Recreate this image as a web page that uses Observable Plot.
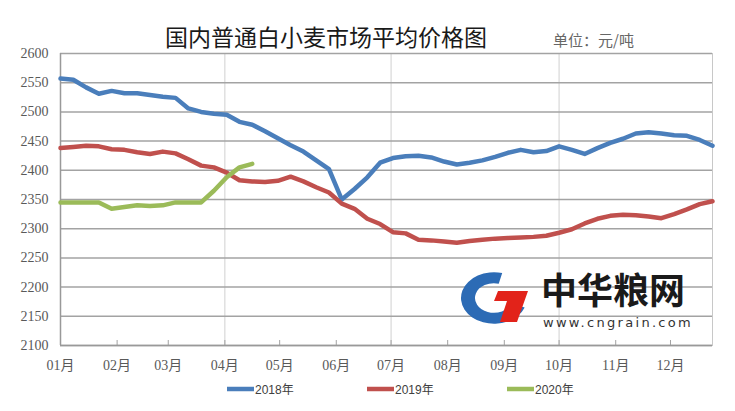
<!DOCTYPE html>
<html><head><meta charset="utf-8">
<script src="https://cdn.jsdelivr.net/npm/d3@7"></script>
<script src="https://cdn.jsdelivr.net/npm/@observablehq/plot@0.6"></script>
<style>body{margin:0;background:#fff;}</style>
</head><body><div id="chart"></div>
<script>
// ---- data ----
const title = "国内普通白小麦市场平均价格图";
const unitLabel = "单位：元/吨";
const seriesNames = ["2018年", "2019年", "2020年"];
const seriesColors = ["#4a7ebb", "#c0504d", "#9bbb59"];
const yTicks = [2100, 2150, 2200, 2250, 2300, 2350, 2400, 2450, 2500, 2550, 2600];
const xStart = new Date("2019-01-01");
const xEnd = new Date("2019-12-24");
const monthTicks = d3.utcMonth.range(new Date("2019-01-01"), new Date("2019-12-02"));
const gridMonths = [new Date("2019-04-01"), new Date("2019-07-01"), new Date("2019-10-01")];
const weekDates = d3.utcDay.range(new Date("2019-01-01"), new Date("2019-12-25"), 7);
const values2018 = [2557,2555,2542,2531,2536,2532,2532,2529,2526,2524,2506,2500,2497,2495,2483,2478,2467,2455,2443,2432,2417,2402,2350,2368,2388,2413,2421,2424,2425,2422,2415,2410,2413,2417,2423,2430,2435,2431,2433,2441,2435,2428,2438,2447,2454,2463,2465,2463,2460,2459,2452,2442];
const values2019 = [2438,2440,2442,2441,2436,2435,2431,2428,2432,2429,2419,2408,2405,2396,2383,2381,2380,2382,2389,2381,2371,2362,2343,2334,2317,2308,2294,2292,2281,2280,2278,2276,2279,2281,2283,2284,2285,2286,2288,2293,2299,2309,2317,2322,2324,2323,2321,2318,2325,2333,2342,2347];
const values2020 = [2345,2345,2345,2345,2334,2337,2340,2339,2340,2345,2345,2345,2365,2388,2405,2411];
const watermarkName = "中华粮网";
const watermarkUrl = "www.cngrain.com";

const allValues = [values2018, values2019, values2020];
const rows = allValues.flatMap((vals, s) => vals.map((v, i) => ({date: weekDates[i], value: v, series: seriesNames[s]})));

const W = 735, H = 411;
const chart = Plot.plot({
  width: W, height: H,
  marginTop: 53, marginBottom: 66, marginLeft: 60, marginRight: 23,
  style: {fontFamily: "'Liberation Serif', 'Noto Sans CJK SC', serif", fontSize: "14px", color: "#595959", background: "#fff", overflow: "visible"},
  x: {type: "utc", domain: [xStart, xEnd]},
  y: {domain: [2100, 2600]},
  marks: [
    Plot.frame({stroke: "#c8c8c8"}),
    Plot.gridX(gridMonths, {stroke: "#d0d0d0", strokeOpacity: 1}),
    Plot.gridY(yTicks, {stroke: "#a3a3a3", strokeOpacity: 1, strokeWidth: 1.5}),
    Plot.axisY(yTicks, {tickSize: 0, tickPadding: 12, label: null, tickFormat: "d", fill: "#595959", fontFamily: "'Liberation Serif', serif", fontSize: 14}),
    Plot.axisX(monthTicks, {tickFormat: d3.utcFormat("%m月"), tickSize: -5, tickPadding: 20, label: null, stroke: "#a3a3a3", fill: "#595959", fontFamily: "'Liberation Serif', 'Noto Sans CJK SC', serif", fontSize: 14}),
    Plot.ruleY([2100], {stroke: "#999", strokeWidth: 1.5}),
    Plot.ruleX([xStart], {stroke: "#999", strokeWidth: 1.5}),
    ...seriesNames.map((name, s) => Plot.line(rows.filter(d => d.series === name), {
      x: "date", y: "value", stroke: seriesColors[s], strokeWidth: 4.5, strokeLinejoin: "round", strokeLinecap: "round"
    }))
  ]
});
document.getElementById("chart").append(chart);

const svg = d3.select(chart);
// watermark logo
const wm = svg.append("g").attr("text-anchor", "start");
wm.append("path")
  .attr("d", d3.arc()({innerRadius: 19, outerRadius: 33, startAngle: Math.PI * 0.62, endAngle: Math.PI * 2.08}))
  .attr("transform", "translate(494,298) scale(1,0.78)")
  .attr("fill", "#2c6bb5");
wm.append("path")
  .attr("d", "M498,291 L528,291 L517,322 L500,322 L507,301 L494,301 Z")
  .attr("fill", "#e2231a");
wm.append("text").attr("x", 541).attr("y", 304).attr("font-family", "'Noto Sans CJK SC'").attr("font-weight", "bold")
  .attr("font-size", 36).attr("fill", "#1a1a1a").text(watermarkName);
wm.append("text").attr("x", 543).attr("y", 327).attr("font-family", "'DejaVu Sans'")
  .attr("font-size", 13).attr("letter-spacing", 2.3).attr("fill", "#333").text(watermarkUrl);

// title & unit
svg.append("text").attr("x", 326).attr("y", 46).attr("text-anchor", "middle")
  .attr("font-family", "'Noto Sans CJK SC'").attr("font-size", 23).attr("fill", "#1a1a1a").text(title);
svg.append("text").attr("x", 553).attr("y", 46).attr("text-anchor", "start")
  .attr("font-family", "'Noto Sans CJK SC'").attr("font-size", 15).attr("fill", "#666").text(unitLabel);

// legend
const legendX = [227, 367, 507];
seriesNames.forEach((name, s) => {
  const g = svg.append("g").attr("text-anchor", "start");
  g.append("line").attr("x1", legendX[s]).attr("x2", legendX[s] + 27).attr("y1", 389).attr("y2", 389)
    .attr("stroke", seriesColors[s]).attr("stroke-width", 4.5);
  g.append("text").attr("x", legendX[s] + 28).attr("y", 393.5)
    .attr("font-family", "'Liberation Sans', 'Noto Sans CJK SC', sans-serif").attr("font-size", 12).attr("fill", "#404040").text(name);
});
</script>
</body></html>
